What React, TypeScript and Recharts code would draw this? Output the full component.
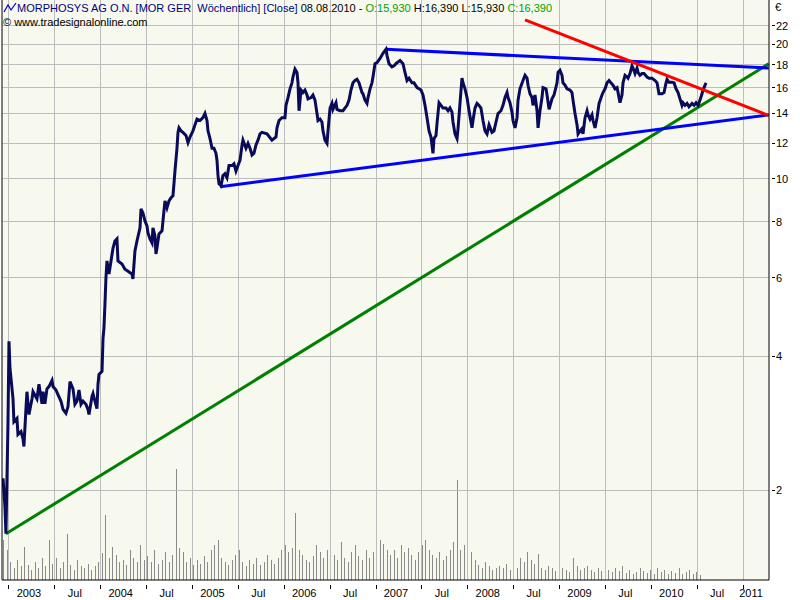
import React from 'react';
import { ComposedChart, Line, Bar, XAxis, YAxis, ReferenceLine } from 'recharts';

// weekly closes (fractional year, EUR)
const closeYears = [
  2002.935, 2002.956, 2002.967, 2002.989, 2003.0, 2003.011, 2003.044, 2003.054, 2003.087, 2003.098,
  2003.131, 2003.153, 2003.163, 2003.185, 2003.196, 2003.218, 2003.251, 2003.262, 2003.305, 2003.327,
  2003.36, 2003.371, 2003.392, 2003.414, 2003.436, 2003.469, 2003.48, 2003.512, 2003.534, 2003.567,
  2003.589, 2003.621, 2003.643, 2003.665, 2003.698, 2003.719, 2003.741, 2003.763, 2003.785, 2003.807,
  2003.839, 2003.861, 2003.872, 2003.905, 2003.916, 2003.937, 2003.959, 2003.97, 2003.981, 2004.014,
  2004.025, 2004.035, 2004.046, 2004.057, 2004.068, 2004.09, 2004.112, 2004.134, 2004.155, 2004.177,
  2004.188, 2004.232, 2004.264, 2004.297, 2004.341, 2004.351, 2004.373, 2004.395, 2004.428, 2004.439,
  2004.46, 2004.482, 2004.504, 2004.515, 2004.537, 2004.559, 2004.569, 2004.591, 2004.602, 2004.613,
  2004.635, 2004.668, 2004.689, 2004.7, 2004.722, 2004.744, 2004.766, 2004.787, 2004.798, 2004.809,
  2004.831, 2004.842, 2004.853, 2004.875, 2004.896, 2004.929, 2004.951, 2004.973, 2005.005, 2005.027,
  2005.049, 2005.082, 2005.114, 2005.136, 2005.158, 2005.169, 2005.191, 2005.213, 2005.234, 2005.256,
  2005.267, 2005.278, 2005.289, 2005.311, 2005.332, 2005.354, 2005.376, 2005.398, 2005.431, 2005.452,
  2005.474, 2005.496, 2005.518, 2005.54, 2005.55, 2005.583, 2005.605, 2005.627, 2005.649, 2005.67,
  2005.692, 2005.714, 2005.736, 2005.757, 2005.812, 2005.866, 2005.91, 2005.921, 2005.943, 2005.975,
  2006.008, 2006.019, 2006.041, 2006.063, 2006.084, 2006.095, 2006.117, 2006.139, 2006.15, 2006.161,
  2006.183, 2006.204, 2006.226, 2006.248, 2006.259, 2006.292, 2006.313, 2006.335, 2006.357, 2006.368,
  2006.39, 2006.411, 2006.422, 2006.444, 2006.466, 2006.477, 2006.499, 2006.52, 2006.531, 2006.564,
  2006.575, 2006.608, 2006.64, 2006.684, 2006.706, 2006.727, 2006.749, 2006.771, 2006.793, 2006.815,
  2006.847, 2006.858, 2006.88, 2006.902, 2006.913, 2006.935, 2006.956, 2006.967, 2006.989, 2007.011,
  2007.044, 2007.076, 2007.109, 2007.12, 2007.142, 2007.174, 2007.196, 2007.229, 2007.262, 2007.294,
  2007.316, 2007.338, 2007.36, 2007.392, 2007.414, 2007.447, 2007.469, 2007.49, 2007.512, 2007.534,
  2007.556, 2007.578, 2007.599, 2007.621, 2007.632, 2007.654, 2007.665, 2007.687, 2007.708, 2007.73,
  2007.763, 2007.785, 2007.806, 2007.828, 2007.839, 2007.861, 2007.883, 2007.894, 2007.916, 2007.937,
  2007.948, 2007.97, 2007.992, 2008.014, 2008.046, 2008.057, 2008.079, 2008.101, 2008.123, 2008.144,
  2008.166, 2008.188, 2008.21, 2008.232, 2008.264, 2008.286, 2008.308, 2008.33, 2008.362, 2008.384,
  2008.406, 2008.428, 2008.439, 2008.46, 2008.482, 2008.493, 2008.515, 2008.537, 2008.548, 2008.569,
  2008.602, 2008.624, 2008.646, 2008.657, 2008.678, 2008.7, 2008.711, 2008.733, 2008.755, 2008.766,
  2008.787, 2008.809, 2008.82, 2008.853, 2008.864, 2008.886, 2008.918, 2008.94, 2008.973, 2008.984,
  2009.005, 2009.027, 2009.038, 2009.06, 2009.082, 2009.114, 2009.136, 2009.147, 2009.169, 2009.191,
  2009.202, 2009.224, 2009.245, 2009.256, 2009.278, 2009.3, 2009.311, 2009.332, 2009.354, 2009.365,
  2009.387, 2009.409, 2009.431, 2009.463, 2009.474, 2009.496, 2009.518, 2009.54, 2009.561, 2009.583,
  2009.605, 2009.627, 2009.638, 2009.659, 2009.681, 2009.692, 2009.714, 2009.736, 2009.747, 2009.768,
  2009.79, 2009.801, 2009.823, 2009.845, 2009.856, 2009.877, 2009.899, 2009.921, 2009.954, 2009.975,
  2010.008, 2010.041, 2010.063, 2010.084, 2010.117, 2010.139, 2010.161, 2010.172, 2010.193, 2010.226,
  2010.248, 2010.27, 2010.292, 2010.313, 2010.335, 2010.346, 2010.368, 2010.39, 2010.411, 2010.444,
  2010.466, 2010.488, 2010.51, 2010.531, 2010.553, 2010.564, 2010.586, 2010.597,
];
const closes = [
  2.13, 1.84, 1.6, 2.81, 4.32, 3.76, 3.21, 2.85, 2.9, 2.67,
  2.71, 2.61, 2.51, 3.05, 3.33, 2.96, 3.21, 3.33, 3.21, 3.46,
  3.13, 3.33, 3.13, 3.38, 3.42, 3.53, 3.42, 3.36, 3.28, 3.17,
  3.04, 2.98, 3.08, 3.51, 3.38, 3.12, 3.17, 3.36, 3.12, 3.17,
  3.12, 3.04, 2.96, 3.25, 3.3, 3.17, 3.05, 3.46, 3.64, 3.7,
  4.39, 4.62, 5.23, 6.0, 6.54, 6.11, 6.54, 6.99, 7.25, 7.33,
  6.54, 6.44, 6.27, 6.2, 6.11, 5.96, 6.89, 7.25, 7.76, 8.56,
  8.38, 8.04, 7.84, 7.56, 7.33, 7.18, 7.76, 7.44, 6.78, 6.99,
  7.52, 7.64, 8.47, 8.92, 8.6, 8.92, 9.06, 9.15, 9.74, 10.4,
  11.7, 12.7, 13.0, 12.8, 12.7, 12.5, 12.05, 12.4, 12.8, 13.2,
  13.6, 13.5, 13.7, 14.0, 13.5, 12.8, 12.3, 11.7, 11.7, 11.4,
  11.0, 10.16, 9.74, 9.64, 10.16, 10.26, 10.05, 10.7, 10.7, 10.8,
  10.4, 10.7, 11.0, 11.9, 12.2, 11.7, 12.0, 11.7, 11.3, 11.4,
  11.9, 12.2, 12.6, 12.7, 12.6, 12.2, 12.4, 13.0, 13.5, 13.7,
  13.7, 14.6, 15.2, 15.9, 16.4, 16.9, 17.6, 17.3, 16.4, 14.2,
  15.8, 15.6, 15.8, 15.4, 15.1, 15.2, 15.4, 15.0, 14.0, 13.5,
  13.6, 13.4, 12.8, 12.2, 12.0, 12.8, 14.4, 14.75, 14.3, 14.8,
  14.3, 14.2, 14.2, 14.6, 15.0, 15.8, 16.4, 16.6, 16.7, 16.4,
  15.6, 15.5, 15.0, 14.75, 15.2, 15.9, 16.4, 16.9, 18.1, 18.2,
  18.6, 19.1, 19.5, 18.9, 18.1, 17.8, 17.9, 18.2, 18.4, 18.1,
  17.3, 16.6, 16.8, 16.4, 16.4, 16.0, 15.9, 15.8, 15.4, 14.6,
  13.7, 12.8, 12.4, 11.4, 12.3, 12.5, 13.3, 14.8, 14.6, 14.4,
  14.4, 14.2, 14.4, 14.1, 13.4, 12.6, 12.3, 12.95, 14.8, 16.8,
  16.4, 15.9, 15.2, 14.2, 13.0, 13.5, 14.4, 14.75, 14.6, 14.4,
  13.5, 12.8, 12.6, 13.2, 12.7, 12.8, 13.4, 14.0, 14.2, 14.6,
  15.2, 15.6, 15.2, 14.8, 14.1, 13.5, 13.0, 13.7, 15.0, 15.9,
  16.6, 17.05, 16.8, 16.2, 15.5, 15.2, 14.6, 15.4, 14.2, 13.0,
  14.2, 15.2, 16.0, 15.9, 15.4, 14.3, 15.1, 15.4, 16.4, 17.3,
  17.5, 17.05, 16.4, 16.2, 15.9, 15.8, 15.6, 15.0, 14.0, 13.2,
  12.6, 12.8, 12.95, 12.6, 13.7, 14.2, 13.9, 13.6, 13.9, 13.5,
  13.0, 13.7, 14.75, 15.4, 15.6, 15.9, 16.4, 16.6, 16.4, 16.2,
  15.9, 16.0, 15.6, 14.8, 15.4, 16.4, 17.05, 16.9, 16.8, 17.2,
  17.9, 17.7, 17.2, 17.7, 17.3, 17.05, 17.2, 17.2, 16.9, 16.8,
  16.8, 16.6, 16.4, 15.5, 15.5, 15.6, 16.4, 16.7, 16.45, 16.45,
  16.4, 15.9, 15.6, 15.1, 14.6, 14.8, 14.6, 14.75, 14.5, 14.75,
  14.6, 14.8, 14.6, 15.0, 15.5, 15.8, 16.2, 16.39,
];

// volume, one bar every two weeks from mid-December 2002 (thousand shares)
const volumeStart = 2002.946;
const volumeStep = 2 / 52.18;
const volumes = [
  200, 150, 90, 60, 100, 70, 165, 75, 50, 90, 60, 110, 70, 200, 80, 110, 60, 90, 230, 75,
  50, 100, 70, 60, 80, 50, 70, 90, 135, 325, 110, 165, 125, 90, 100, 75, 150, 110, 90, 175,
  100, 120, 90, 150, 80, 100, 140, 90, 125, 555, 160, 140, 90, 110, 75, 100, 80, 120, 90, 150,
  175, 200, 110, 90, 75, 100, 125, 150, 90, 70, 100, 80, 110, 75, 90, 125, 100, 80, 110, 150,
  175, 140, 160, 335, 150, 125, 100, 90, 120, 175, 140, 110, 150, 90, 125, 100, 190, 110, 90, 140,
  175, 120, 100, 150, 110, 140, 160, 200, 180, 150, 125, 150, 110, 175, 140, 160, 125, 100, 140, 175,
  200, 150, 125, 110, 140, 100, 120, 150, 190, 500, 150, 175, 125, 140, 100, 75, 60, 90, 70, 50,
  60, 70, 60, 80, 50, 70, 60, 110, 90, 140, 100, 80, 130, 60, 50, 70, 60, 45, 40, 60,
  50, 40, 110, 70, 50, 60, 70, 50, 40, 60, 45, 90, 50, 40, 60, 45, 70, 35, 50, 30,
  40, 60, 45, 35, 50, 30, 60, 40, 50, 30, 45, 35, 60, 30, 40, 50, 30, 40, 25,
];

const yearTicks = [2003, 2003.5, 2004, 2004.5, 2005, 2005.5, 2006, 2006.5, 2007, 2007.5, 2008, 2008.5, 2009, 2009.5, 2010, 2010.5, 2011];
const yearLabels = ['2003', 'Jul', '2004', 'Jul', '2005', 'Jul', '2006', 'Jul', '2007', 'Jul', '2008', 'Jul', '2009', 'Jul', '2010', 'Jul', '2011'];
const priceTicks = [2, 4, 6, 8, 10, 12, 14, 16, 18, 20, 22];

// drawn trend lines: [year, price] endpoints
const upperBlue = [[2007.109, 19.5], [2011.28, 17.7]];
const lowerBlue = [[2005.3, 9.59], [2011.28, 13.9]];
const redLine = [[2008.624, 22.7], [2011.28, 13.85]];
const greenLine = [[2002.967, 1.6], [2011.28, 18.1]];

const X_DOMAIN = [2002.924, 2011.283];
const Y_DOMAIN = [1.26, 25.15];

const volumeRows = volumes.map((v, i) => ({ t: volumeStart + i * volumeStep, volume: v }));
const closeRows = closeYears.map((t, i) => ({ t, close: closes[i] }));

// grid drawn as broken polylines at the tick values
const hGridRows = priceTicks.flatMap((v) => [
  { t: X_DOMAIN[0], g: v },
  { t: X_DOMAIN[1], g: v },
  { t: X_DOMAIN[1], g: null },
]);
const vGridRows = yearTicks.flatMap((v) => [
  { t: v, g: Y_DOMAIN[0] },
  { t: v, g: Y_DOMAIN[1] },
  { t: v, g: null },
]);

const FONT = '"Liberation Sans", Arial, sans-serif';
const GRID = '#bdbdbd';

const YearTick = (props: any) => {
  const { x, y, payload } = props;
  const i = yearTicks.indexOf(payload.value);
  const last = i === yearTicks.length - 1;
  return (
    <g>
      <line x1={x} x2={x} y1={y + 5} y2={y + 9} stroke="#000" shapeRendering="crispEdges" />
      <text x={last ? x + 8 : x + 20} y={y + 17} textAnchor="middle" fontSize={11} fontFamily={FONT} fill="#000">
        {yearLabels[i]}
      </text>
    </g>
  );
};

const PriceTick = (props: any) => {
  const { x, y, payload } = props;
  return (
    <g>
      <line x1={x + 3} x2={x + 6} y1={y} y2={y} stroke="#000" shapeRendering="crispEdges" />
      <text x={x + 7} y={y + 4} fontSize={11} fontFamily={FONT} fill="#000">
        {payload.value}
      </text>
    </g>
  );
};

const seg = (p: number[][]) => [{ x: p[0][0], y: p[0][1] }, { x: p[1][0], y: p[1][1] }];

export default function App() {
  return (
    <div style={{ position: 'absolute', left: 0, top: 0, width: 800, height: 600, background: '#fff' }}>
      {/* plot background */}
      <div style={{ position: 'absolute', left: 2, top: 0, width: 767, height: 580, background: '#f7f9ee' }} />
      <ComposedChart
        width={800}
        height={600}
        data={volumeRows}
        margin={{ top: 0, right: 0, bottom: 0, left: 0 }}
        style={{ position: 'absolute', left: 0, top: 0 }}
      >
        <XAxis
          dataKey="t"
          type="number"
          domain={X_DOMAIN}
          allowDataOverflow
          ticks={yearTicks}
          interval={0}
          tick={<YearTick />}
          tickLine={false}
          tickSize={0}
          tickMargin={0}
          height={20}
          axisLine={{ stroke: '#000' }}
        />
        <XAxis xAxisId="vol" dataKey="t" type="number" domain={X_DOMAIN} allowDataOverflow hide />
        <YAxis
          yAxisId="vol"
          orientation="left"
          width={2}
          domain={[0, 2900]}
          tick={false}
          tickLine={false}
          axisLine={{ stroke: '#000' }}
        />
        <YAxis
          yAxisId="price"
          orientation="right"
          scale="log"
          domain={Y_DOMAIN}
          allowDataOverflow
          ticks={priceTicks}
          interval={0}
          tick={<PriceTick />}
          tickLine={false}
          tickSize={0}
          tickMargin={0}
          width={31}
          axisLine={{ stroke: '#000' }}
        />
        <Line
          data={hGridRows}
          yAxisId="price"
          dataKey="g"
          type="linear"
          stroke={GRID}
          strokeWidth={1}
          shapeRendering="crispEdges"
          dot={false}
          activeDot={false}
          connectNulls={false}
          isAnimationActive={false}
        />
        <Line
          data={vGridRows}
          yAxisId="price"
          dataKey="g"
          type="linear"
          stroke={GRID}
          strokeWidth={1}
          shapeRendering="crispEdges"
          dot={false}
          activeDot={false}
          connectNulls={false}
          isAnimationActive={false}
        />
        <Bar
          xAxisId="vol"
          yAxisId="vol"
          dataKey="volume"
          fill="#8a8a8a"
          barSize={1}
          shapeRendering="crispEdges"
          isAnimationActive={false}
        />
        <ReferenceLine yAxisId="price" segment={seg(greenLine)} stroke="#008000" strokeWidth={3} />
        <ReferenceLine yAxisId="price" segment={seg(lowerBlue)} stroke="#0000ff" strokeWidth={3} />
        <ReferenceLine yAxisId="price" segment={seg(upperBlue)} stroke="#0000ff" strokeWidth={3} />
        <Line
          data={closeRows}
          yAxisId="price"
          dataKey="close"
          type="linear"
          stroke="#0a0a5a"
          strokeWidth={3}
          dot={false}
          connectNulls
          isAnimationActive={false}
        />
        <ReferenceLine yAxisId="price" segment={seg(redLine)} stroke="#ff0000" strokeWidth={3} />
      </ComposedChart>
      <div style={{ position: 'absolute', left: 3, top: 2, fontFamily: FONT, fontSize: 11, lineHeight: '13px', whiteSpace: 'pre' }}>
        <div>
          <svg width={14} height={11} style={{ verticalAlign: '-1px' }}>
            <polyline points="1,10 5,3 8,8 13,1" fill="none" stroke="#0000c0" strokeWidth={1.2} />
          </svg>
          <span style={{ color: '#000080' }}>MORPHOSYS AG O.N. [MOR GER  Wöchentlich] [Close] </span>
          <span style={{ color: '#000' }}>08.08.2010 - </span>
          <span style={{ color: '#00a000' }}>O:15,930 </span>
          <span style={{ color: '#000' }}>H:16,390 L:15,930 </span>
          <span style={{ color: '#00a000' }}>C:16,390</span>
        </div>
        <div style={{ color: '#000', marginTop: 1 }}>© www.tradesignalonline.com</div>
      </div>
      <div style={{ position: 'absolute', left: 775, top: 1, fontFamily: FONT, fontSize: 11 }}>€</div>
    </div>
  );
}
